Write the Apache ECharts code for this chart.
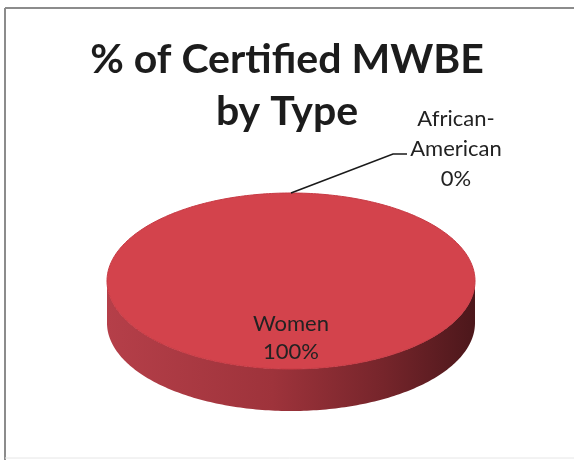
<!DOCTYPE html>
<html>
<head>
<meta charset="utf-8">
<script src="https://cdn.jsdelivr.net/npm/echarts@6/dist/echarts.min.js"></script>
<style>
html,body{margin:0;padding:0;background:#fff;}
#chart{width:574px;height:460px;}
</style>
</head>
<body>
<div id="chart"></div>
<script>
// ---- data ----
var categories = ['African-American', 'Women'];
var values = [0, 100];
var titleLines = ['% of Certified MWBE', 'by Type'];

// ---- layout / style ----
var CX = 291, CY = 281, RX = 184, RY = 88, DEPTH = 42;
var TOP_COLOR = '#d3434c';
var FONT = 'Lato, "Open Sans", sans-serif';

var total = values.reduce(function (a, b) { return a + b; }, 0);
var starts = [];
(function () { var acc = 0; for (var i = 0; i < values.length; i++) { starts.push(acc); acc += values[i]; } })();

function pt(theta, dy) {
  return [CX + RX * Math.sin(theta), CY - RY * Math.cos(theta) + (dy || 0)];
}
function arcPoints(a, b, dy) {
  var pts = [];
  var n = Math.max(2, Math.ceil((b - a) / (Math.PI / 180)));
  for (var k = 0; k <= n; k++) pts.push(pt(a + (b - a) * k / n, dy));
  return pts;
}

function renderItem(params, api) {
  var i = params.dataIndex;
  var v = api.value(0);
  var a = starts[i] / total * Math.PI * 2;
  var b = (starts[i] + v) / total * Math.PI * 2;
  var pct = Math.round(v / total * 100) + '%';
  var children = [];
  if (b - a > 1e-6) {
    var s0 = Math.max(a, Math.PI / 2), s1 = Math.min(b, Math.PI * 1.5);
    if (s1 > s0) {
      var topArc = arcPoints(s0, s1, 0);
      var botArc = arcPoints(s0, s1, DEPTH).reverse();
      children.push({
        type: 'polygon', z2: 1,
        shape: { points: topArc.concat(botArc) },
        style: {
          fill: new echarts.graphic.LinearGradient(0, 0, 1, 0, [
            { offset: 0, color: '#b53f49' },
            { offset: 0.45, color: '#9e333b' },
            { offset: 0.75, color: '#76252b' },
            { offset: 1, color: '#4c171b' }
          ])
        }
      });
    }
    var full = (b - a) >= Math.PI * 2 - 1e-6;
    var topPts = arcPoints(a, b, 0);
    if (!full) topPts = [[CX, CY]].concat(topPts);
    children.push({
      type: 'polygon', z2: 5,
      shape: { points: topPts },
      style: { fill: TOP_COLOR, stroke: '#c83a44', lineWidth: 1 }
    });
  }
  var mid = (a + b) / 2;
  if (v / total >= 0.05) {
    var lp = [CX + 0.65 * RX * Math.sin(mid), CY - 0.65 * RY * Math.cos(mid)];
    children.push({
      type: 'text', z2: 10,
      x: lp[0], y: lp[1],
      style: {
        text: categories[i] + '\n' + pct,
        fill: '#222222', font: '22px ' + FONT, lineHeight: 28,
        align: 'center', verticalAlign: 'middle'
      }
    });
  } else {
    var anchor = pt(mid, 0);
    var elbow = [anchor[0] + 102, anchor[1] - 39];
    var end = [elbow[0] + 14, elbow[1]];
    children.push({
      type: 'polyline', z2: 10,
      shape: { points: [anchor, elbow, end] },
      style: { stroke: '#1a1a1a', lineWidth: 1.6, fill: null }
    });
    children.push({
      type: 'text', z2: 10,
      x: end[0] + 49, y: end[1] - 5,
      style: {
        text: categories[i].replace('-', '-\n') + '\n' + pct,
        fill: '#222222', font: '22px ' + FONT, lineHeight: 30,
        align: 'center', verticalAlign: 'middle'
      }
    });
  }
  return { type: 'group', children: children };
}

var chart = echarts.init(document.getElementById('chart'), null, { renderer: 'canvas' });
chart.setOption({
  backgroundColor: '#ffffff',
  animation: false,
  title: {
    text: titleLines.join('\n'),
    left: 'center', top: 29,
    textStyle: { fontFamily: FONT, fontWeight: 'bold', fontSize: 41, lineHeight: 52, color: '#1c1c1c' }
  },
  graphic: [
    { type: 'line', shape: { x1: 5, y1: 8, x2: 574, y2: 8 }, style: { stroke: '#8c8c8c', lineWidth: 2 } },
    { type: 'line', shape: { x1: 5, y1: 8, x2: 5, y2: 460 }, style: { stroke: '#8c8c8c', lineWidth: 2 } },
    { type: 'line', shape: { x1: 5, y1: 458, x2: 574, y2: 458 }, style: { stroke: '#e6e6e6', lineWidth: 1 } }
  ],
  series: [{
    type: 'custom',
    coordinateSystem: 'none',
    renderItem: renderItem,
    data: values.map(function (v) { return [v]; })
  }]
});
</script>
</body>
</html>
